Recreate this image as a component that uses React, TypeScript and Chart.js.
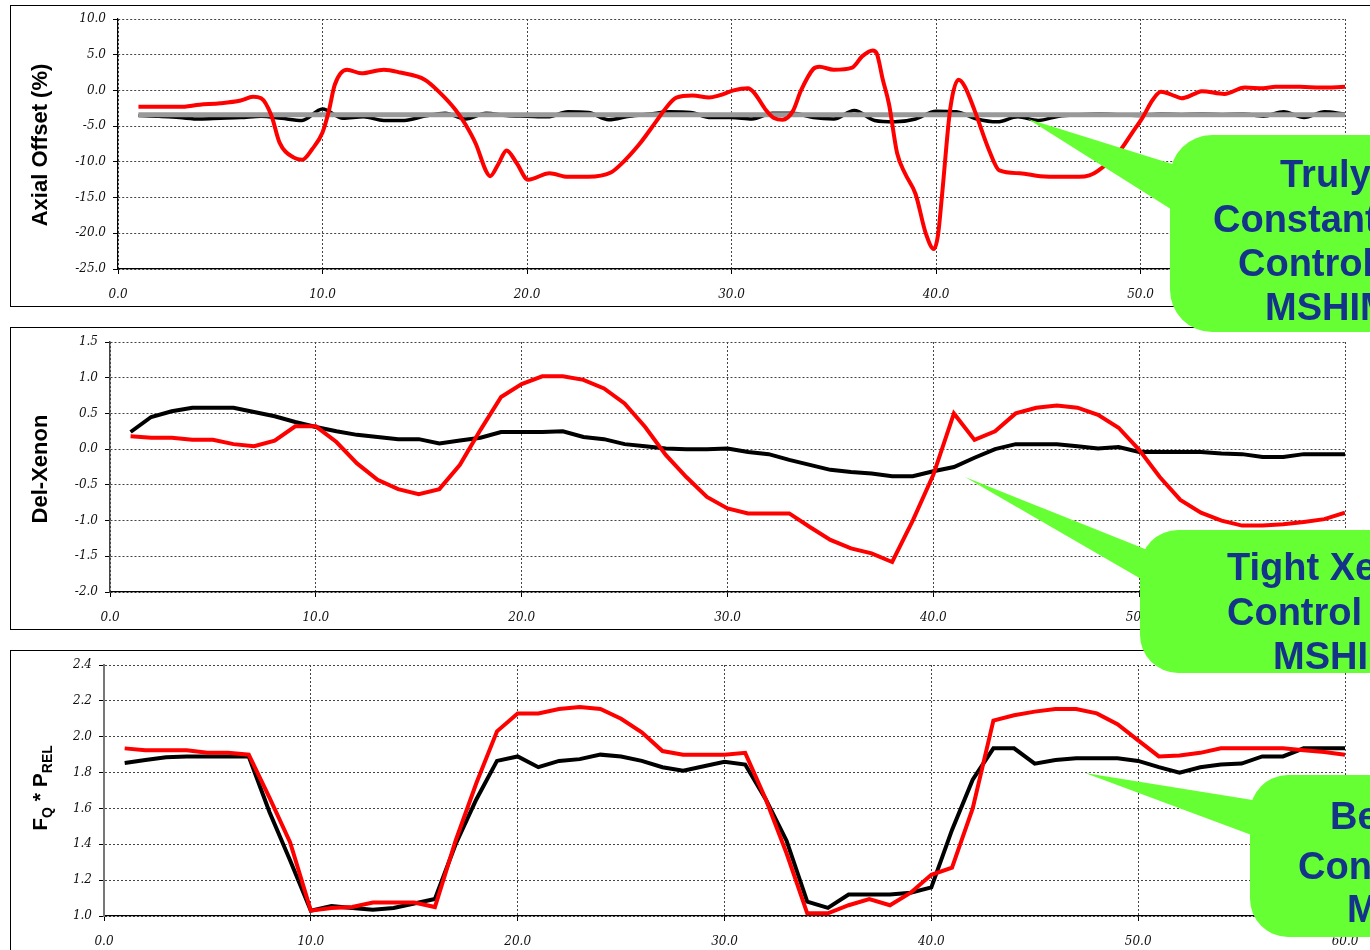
import React, { useEffect, useRef } from "react";
import { Chart, registerables } from "chart.js";

Chart.register(...registerables);

// ---------- tick values ----------
const xTicks = [0, 10, 20, 30, 40, 50, 60];
const aoTicks = [10, 5, 0, -5, -10, -15, -20, -25];
const xeTicks = [1.5, 1.0, 0.5, 0, -0.5, -1.0, -1.5, -2.0];
const fqTicks = [2.4, 2.2, 2.0, 1.8, 1.6, 1.4, 1.2, 1.0];

// ---------- panel 1 : Axial Offset ----------
const aoRedX = [1, 2, 3, 4, 5, 6, 6.6, 7.0, 7.5, 7.9, 8.6, 9.0, 9.5, 10.0, 10.3, 10.6, 11.2, 11.9, 13.0, 13.8, 15.0, 15.7, 16.5, 17.0, 17.5, 18.0, 18.2, 18.6, 19.0, 19.5, 20.05, 21.1, 22, 23, 24.1, 24.5, 25.5, 26.3, 26.7, 27.3, 28.1, 28.9, 29.4, 30.1, 30.8, 31.1, 31.7, 32.1, 32.5, 33.0, 33.4, 34.0, 34.3, 35.0, 35.9, 36.4, 36.9, 37.1, 37.4, 37.7, 38.1, 38.5, 39.0, 39.5, 39.9, 40.1, 40.3, 40.7, 41.1, 41.4, 41.9, 42.6, 43.1, 44.1, 45.1, 46.1, 47.0, 47.5, 47.9, 49.0, 49.6, 50.1, 50.6, 51.0, 51.7, 52.0, 52.7, 53.0, 54.1, 55.1, 56.0, 56.6, 57.8, 58.8, 60];
const aoRed = [-2.3, -2.3, -2.3, -2.0, -1.8, -1.4, -0.9, -1.1, -3.5, -7.3, -9.4, -9.7, -8.2, -5.9, -3.0, 0.8, 2.9, 2.4, 2.9, 2.5, 1.5, -0.2, -2.7, -4.8, -7.5, -11.3, -12.0, -10.3, -8.4, -10.2, -12.5, -11.6, -12.1, -12.1, -11.5, -10.6, -7.5, -4.4, -2.8, -1.0, -0.7, -1.0, -0.7, 0.0, 0.3, -0.3, -2.8, -3.9, -4.1, -2.9, 0.0, 3.0, 3.3, 2.9, 3.2, 4.8, 5.6, 5.2, 1.5, -1.9, -8.8, -11.7, -14.5, -20.0, -22.2, -20.2, -14.5, -2.5, 1.5, 0.6, -2.9, -8.4, -11.2, -11.6, -12.0, -12.1, -12.1, -11.9, -11.3, -8.4, -5.9, -3.8, -1.3, -0.2, -0.8, -1.1, -0.4, -0.1, -0.5, 0.4, 0.3, 0.5, 0.5, 0.4, 0.5];

const stepX = [1, 2, 3, 4, 5, 6, 7, 8, 9, 10, 11, 12, 13, 14, 15, 16, 17, 18, 19, 20, 21, 22, 23, 24, 25, 26, 27, 28, 29, 30, 31, 32, 33, 34, 35, 36, 37, 38, 39, 40, 41, 42, 43, 44, 45, 46, 47, 48, 49, 50, 51, 52, 53, 54, 55, 56, 57, 58, 59, 60];

const aoBlack = [-3.5, -3.6, -3.8, -4.0, -3.9, -3.8, -3.6, -3.9, -4.2, -2.6, -3.9, -3.7, -4.2, -4.2, -3.6, -3.2, -4.0, -3.2, -3.5, -3.6, -3.7, -3.0, -3.1, -4.1, -3.6, -3.3, -3.0, -3.1, -3.8, -3.8, -4.0, -3.2, -3.2, -3.8, -4.0, -2.8, -4.2, -4.4, -4.0, -2.9, -3.0, -4.0, -4.4, -3.7, -4.2, -3.6, -3.4, -3.3, -3.4, -3.5, -3.3, -3.4, -3.3, -3.4, -3.3, -3.6, -3.0, -3.8, -3.0, -3.3];

const aoGrayX = [1, 60];
const aoGray = [-3.4, -3.4];

// ---------- panel 2 : Del-Xenon ----------
const xeBlack = [0.24, 0.45, 0.53, 0.58, 0.58, 0.58, 0.52, 0.46, 0.38, 0.31, 0.25, 0.20, 0.17, 0.14, 0.14, 0.08, 0.12, 0.16, 0.24, 0.24, 0.24, 0.25, 0.17, 0.14, 0.07, 0.04, 0.01, 0.0, 0.0, 0.01, -0.04, -0.07, -0.15, -0.22, -0.29, -0.32, -0.34, -0.38, -0.38, -0.31, -0.25, -0.12, 0.0, 0.07, 0.07, 0.07, 0.04, 0.01, 0.03, -0.04, -0.04, -0.04, -0.04, -0.06, -0.07, -0.11, -0.11, -0.07, -0.07, -0.07];
const xeRed = [0.18, 0.16, 0.16, 0.13, 0.13, 0.07, 0.04, 0.12, 0.32, 0.32, 0.10, -0.20, -0.43, -0.56, -0.63, -0.56, -0.22, 0.27, 0.73, 0.91, 1.02, 1.02, 0.97, 0.85, 0.64, 0.31, -0.08, -0.39, -0.67, -0.83, -0.90, -0.90, -0.90, -1.09, -1.27, -1.39, -1.46, -1.58, -1.0, -0.36, 0.50, 0.13, 0.25, 0.50, 0.58, 0.61, 0.58, 0.48, 0.30, -0.01, -0.39, -0.71, -0.89, -1.0, -1.07, -1.07, -1.05, -1.02, -0.98, -0.89];

// ---------- panel 3 : Fq * Prel ----------
const fqBlack = [1.853, 1.87, 1.885, 1.89, 1.89, 1.89, 1.89, 1.58, 1.31, 1.03, 1.055, 1.045, 1.035, 1.045, 1.07, 1.095, 1.40, 1.65, 1.865, 1.89, 1.83, 1.865, 1.875, 1.90, 1.89, 1.865, 1.83, 1.81, 1.835, 1.86, 1.845, 1.65, 1.42, 1.08, 1.045, 1.12, 1.12, 1.12, 1.13, 1.16, 1.48, 1.76, 1.935, 1.935, 1.85, 1.87, 1.88, 1.88, 1.88, 1.865, 1.83, 1.80, 1.83, 1.845, 1.85, 1.89, 1.89, 1.935, 1.935, 1.935];
const fqRed = [1.935, 1.925, 1.925, 1.925, 1.91, 1.91, 1.90, 1.66, 1.41, 1.03, 1.045, 1.05, 1.075, 1.075, 1.075, 1.05, 1.42, 1.74, 2.03, 2.13, 2.13, 2.155, 2.165, 2.155, 2.10, 2.025, 1.92, 1.90, 1.90, 1.90, 1.91, 1.65, 1.35, 1.015, 1.015, 1.06, 1.095, 1.06, 1.13, 1.23, 1.27, 1.60, 2.09, 2.12, 2.14, 2.155, 2.155, 2.13, 2.07, 1.98, 1.89, 1.895, 1.91, 1.935, 1.935, 1.935, 1.935, 1.925, 1.915, 1.90];

// ---------- callout texts ----------
const callout1Lines = ["Truly", "Constant AO", "Control with", "MSHIM"];
const callout2Lines = ["Tight Xenon", "Control with", "MSHIM"];
const callout3Lines = ["Best", "Control", "MSHIM"];

const pts = (xs: number[], ys: number[]) => xs.map((x, i) => ({ x, y: ys[i] }));

type PanelProps = {
  top: number;
  height: number;
  areaLeft: number;
  areaTop: number;
  areaBottom: number;
  yMin: number;
  yMax: number;
  yTicks: number[];
  yBorderColor: string;
  yBorderWidth: number;
  datasets: any[];
};

const CANVAS_LEFT = 10;
const CANVAS_W = 1360;
const AREA_RIGHT = 1345;

function Panel(p: PanelProps) {
  const ref = useRef<HTMLCanvasElement | null>(null);
  useEffect(() => {
    if (!ref.current) return;
    const tickFont = { family: "'DejaVu Serif', serif", style: "italic" as const, size: 12 };
    const grid = {
      color: "#444",
      lineWidth: 1,
      drawTicks: true,
      tickLength: 5,
      tickColor: "#000",
      tickWidth: 1,
      tickBorderDash: [],
    };
    const chart = new Chart(ref.current, {
      type: "line",
      data: { datasets: p.datasets },
      options: {
        responsive: false,
        animation: false,
        events: [],
        layout: {
          padding: {
            left: 0,
            top: p.areaTop - p.top,
            right: CANVAS_LEFT + CANVAS_W - AREA_RIGHT,
            bottom: 0,
          },
        },
        plugins: {
          legend: { display: false },
          tooltip: { enabled: false },
        },
        elements: { point: { radius: 0 } },
        scales: {
          x: {
            type: "linear",
            min: 0,
            max: 60,
            afterBuildTicks: (s: any) => {
              s.ticks = xTicks.map((v) => ({ value: v }));
            },
            afterFit: (s: any) => {
              s.height = p.top + p.height - p.areaBottom;
              s.paddingLeft = 0;
              s.paddingRight = 0;
            },
            grid,
            border: { display: true, color: "#000", width: 1.2, dash: [2, 2] },
            ticks: {
              font: tickFont,
              color: "#111",
              padding: 14,
              maxRotation: 0,
              autoSkip: false,
              callback: (v: any) => Number(v).toFixed(1),
            },
          },
          y: {
            type: "linear",
            min: p.yMin,
            max: p.yMax,
            afterBuildTicks: (s: any) => {
              s.ticks = p.yTicks.map((v) => ({ value: v }));
            },
            afterFit: (s: any) => {
              s.width = p.areaLeft - CANVAS_LEFT;
              s.paddingTop = 0;
              s.paddingBottom = 0;
            },
            grid,
            border: { display: true, color: p.yBorderColor, width: p.yBorderWidth, dash: [2, 2] },
            ticks: {
              font: tickFont,
              color: "#111",
              padding: 7,
              autoSkip: false,
              callback: (v: any) => Number(v).toFixed(1),
            },
          },
        },
      },
    });
    return () => chart.destroy();
  }, []);
  return (
    <canvas
      ref={ref}
      width={CANVAS_W}
      height={p.height}
      style={{ position: "absolute", left: CANVAS_LEFT, top: p.top, width: CANVAS_W, height: p.height }}
    />
  );
}

const titleFont = "'Liberation Sans', Arial, sans-serif";

function YTitle({ cx, cy, children }: { cx: number; cy: number; children: React.ReactNode }) {
  return (
    <div style={{ position: "absolute", left: cx, top: cy, width: 0, height: 0 }}>
      <div
        style={{
          position: "absolute",
          left: 0,
          top: 0,
          transform: "translate(-50%, -50%) rotate(-90deg)",
          whiteSpace: "nowrap",
          font: `bold 22px ${titleFont}`,
          lineHeight: "22px",
          color: "#000",
        }}
      >
        {children}
      </div>
    </div>
  );
}

function CalloutText({ lines, lefts, cys }: { lines: string[]; lefts: number[]; cys: number[] }) {
  return (
    <>
      {lines.map((t, i) => (
        <div
          key={i}
          style={{
            position: "absolute",
            left: lefts[i],
            top: cys[i] - 22,
            height: 44,
            lineHeight: "44px",
            font: `bold 38px ${titleFont}`,
            color: "#14348a",
            whiteSpace: "nowrap",
          }}
        >
          {t}
        </div>
      ))}
    </>
  );
}

const GREEN = "#66ff33";

export default function App() {
  const red = { borderColor: "#ff0000", backgroundColor: "#ff0000", borderWidth: 4, pointRadius: 0, fill: false };
  const black = { borderColor: "#000000", backgroundColor: "#000000", borderWidth: 4, pointRadius: 0, fill: false };

  const aoSets = [
    { ...red, data: pts(aoRedX, aoRed), cubicInterpolationMode: "monotone" },
    { borderColor: "#999999", borderWidth: 5, pointRadius: 0, fill: false, data: pts(aoGrayX, aoGray) },
    { ...black, borderWidth: 3.5, data: pts(stepX, aoBlack), cubicInterpolationMode: "monotone" },
  ];
  const xeSets = [
    { ...red, data: pts(stepX, xeRed) },
    { ...black, data: pts(stepX, xeBlack) },
  ];
  const fqSets = [
    { ...red, data: pts(stepX, fqRed) },
    { ...black, data: pts(stepX, fqBlack) },
  ];

  const boxStyle = (top: number, height: number): React.CSSProperties => ({
    position: "absolute",
    left: 10,
    top,
    width: 1420,
    height,
    border: "1px solid #000",
    boxSizing: "border-box",
  });

  return (
    <div
      style={{
        position: "fixed",
        left: 0,
        top: 0,
        width: 1370,
        height: 950,
        overflow: "hidden",
        background: "#ffffff",
      }}
    >
      <div style={boxStyle(5, 302)} />
      <div style={boxStyle(327, 303)} />
      <div style={boxStyle(650, 400)} />

      <Panel top={5} height={302} areaLeft={118} areaTop={19} areaBottom={269} yMin={-25} yMax={10} yTicks={aoTicks} yBorderColor="#000" yBorderWidth={1.2} datasets={aoSets} />
      <Panel top={327} height={303} areaLeft={110} areaTop={342} areaBottom={592} yMin={-2} yMax={1.5} yTicks={xeTicks} yBorderColor="#444" yBorderWidth={1.5} datasets={xeSets} />
      <Panel top={650} height={300} areaLeft={104} areaTop={665} areaBottom={916} yMin={1.0} yMax={2.4} yTicks={fqTicks} yBorderColor="#777" yBorderWidth={2} datasets={fqSets} />

      <YTitle cx={40} cy={145}>Axial Offset (%)</YTitle>
      <YTitle cx={40} cy={469}>Del-Xenon</YTitle>
      <YTitle cx={41} cy={788}>
        <span style={{ fontSize: 21 }}>F</span>
        <span style={{ fontSize: 14, position: "relative", top: 5 }}>Q</span>
        <span style={{ fontSize: 21 }}> * P</span>
        <span style={{ fontSize: 14, position: "relative", top: 5 }}>REL</span>
      </YTitle>

      <svg width={1370} height={950} style={{ position: "absolute", left: 0, top: 0 }}>
        <rect x={1170} y={135} width={420} height={197} rx={42} ry={42} fill={GREEN} />
        <polygon points="1028,119 1185,168 1185,218" fill={GREEN} />
        <rect x={1140} y={530} width={420} height={143} rx={38} ry={38} fill={GREEN} />
        <polygon points="965,477 1155,553 1155,587" fill={GREEN} />
        <rect x={1250} y={775} width={320} height={162} rx={38} ry={38} fill={GREEN} />
        <polygon points="1085,773 1265,802 1265,840" fill={GREEN} />
      </svg>

      <CalloutText lines={callout1Lines} lefts={[1280, 1213, 1238, 1265]} cys={[175, 220, 264, 308]} />
      <CalloutText lines={callout2Lines} lefts={[1227, 1227, 1273]} cys={[568, 613, 657]} />
      <CalloutText lines={callout3Lines} lefts={[1330, 1298, 1347]} cys={[817, 867, 910]} />
    </div>
  );
}
